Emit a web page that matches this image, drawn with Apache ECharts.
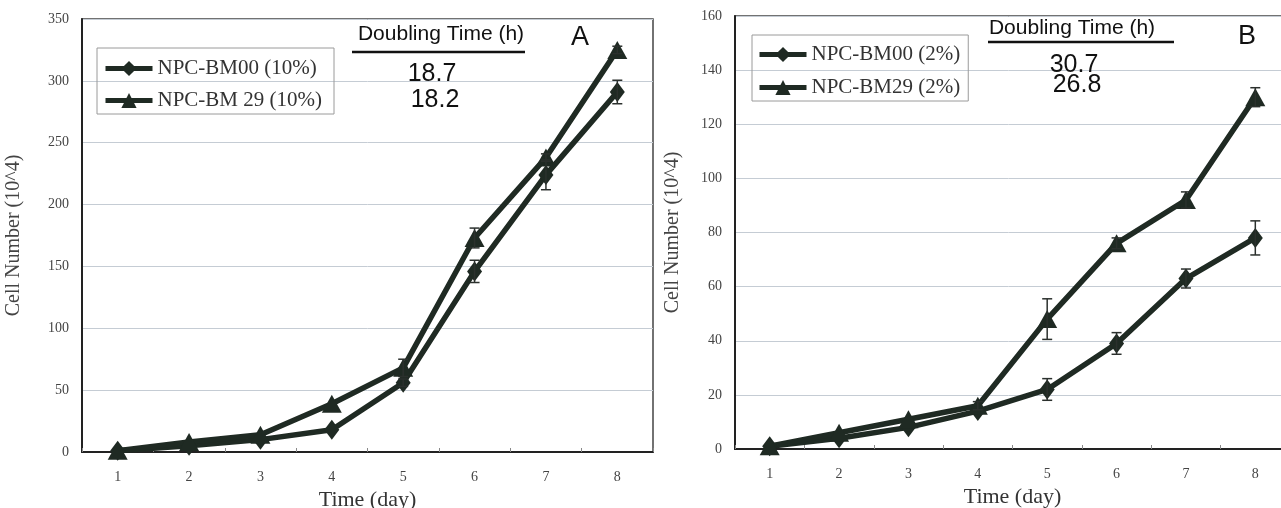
<!DOCTYPE html>
<html><head><meta charset="utf-8">
<script src="https://cdn.jsdelivr.net/npm/echarts@6/dist/echarts.min.js"></script>
<style>html,body{margin:0;padding:0;background:#fff}#c{width:1281px;height:508px}</style>
</head><body><div id="c"></div>
<script>
// ---- data ----
const days = ['1','2','3','4','5','6','7','8'];
const namesA = ['NPC-BM00 (10%)', 'NPC-BM 29 (10%)'];
const namesB = ['NPC-BM00 (2%)', 'NPC-BM29 (2%)'];
const bm00_10 = [1, 5, 10, 18, 56, 146, 224, 291];
const bm00_10_err = [0, 0, 0, 0, 3, 9, 12, 9.5];
const bm29_10 = [1, 8, 14, 39, 68, 173, 238, 325];
const bm29_10_err = [0, 0, 0, 0, 7, 8, 3, 3];
const bm00_2 = [1, 4, 8, 14, 22, 39, 63, 78];
const bm00_2_err = [0, 0, 0, 0, 4, 4, 3.5, 6.3];
const bm29_2 = [1, 6, 11, 16, 48, 76, 92, 130];
const bm29_2_err = [0, 0, 0, 1.5, 7.5, 2, 3, 3.5];
const yAxisA = {min: 0, max: 350, interval: 50};
const yAxisB = {min: 0, max: 160, interval: 20};
const doublingTitle = 'Doubling Time (h)';
const doublingA = ['18.7', '18.2'];
const doublingB = ['30.7', '26.8'];
const panelLabels = ['A', 'B'];
const xTitle = 'Time (day)';
const yTitle = 'Cell Number (10^4)';

// ---- styling ----
const ink = '#1f2a23';
const serif = '"Liberation Serif", "DejaVu Serif", serif';
const sans = '"Liberation Sans", Arial, sans-serif';

function errRender(params, api) {
  const x = api.value(0), v = api.value(1), e = api.value(2);
  if (!e) return null;
  const hi = api.coord([x, v + e]), lo = api.coord([x, v - e]);
  const w = 5;
  const st = {stroke: '#2b302d', lineWidth: 1.5};
  return {type: 'group', children: [
    {type: 'line', shape: {x1: hi[0], y1: hi[1], x2: lo[0], y2: lo[1]}, style: st},
    {type: 'line', shape: {x1: hi[0] - w, y1: hi[1], x2: hi[0] + w, y2: hi[1]}, style: st},
    {type: 'line', shape: {x1: lo[0] - w, y1: lo[1], x2: lo[0] + w, y2: lo[1]}, style: st}
  ]};
}

function lineSeries(name, data, idx, symbol, size) {
  return {
    name, type: 'line', data, xAxisIndex: idx, yAxisIndex: idx,
    symbol, symbolSize: size,
    lineStyle: {color: ink, width: 5.5},
    itemStyle: {color: ink},
    z: 3, animation: false
  };
}
function errSeries(vals, errs, idx) {
  return {
    type: 'custom', xAxisIndex: idx, yAxisIndex: idx,
    renderItem: errRender,
    data: vals.map((v, i) => [i, v, errs[i]]),
    encode: {x: 0, y: 1}, z: 4, animation: false, silent: true
  };
}

function xAxis(idx) {
  return {
    type: 'category', data: days, gridIndex: idx, boundaryGap: true,
    name: xTitle, nameLocation: 'middle', nameGap: 35,
    nameTextStyle: {fontFamily: serif, fontSize: 22, color: '#333'},
    axisLine: {lineStyle: {color: '#222', width: 2}},
    axisTick: {show: true, inside: true, length: 4, lineStyle: {color: '#888'}},
    axisLabel: {fontFamily: serif, fontSize: 14, color: '#444', margin: 18},
    splitLine: {show: false}
  };
}
function yAxis(idx, cfg, gap) {
  return Object.assign({
    type: 'value', gridIndex: idx,
    name: yTitle, nameLocation: 'middle', nameGap: gap, nameRotate: 90,
    nameTextStyle: {fontFamily: serif, fontSize: 20, color: '#444'},
    axisLine: {show: true, lineStyle: {color: '#222', width: 2}},
    axisTick: {show: false},
    axisLabel: {fontFamily: serif, fontSize: 14, color: '#444', margin: 13},
    splitLine: {show: true, lineStyle: {color: '#c5ccd4', width: 1}}
  }, cfg);
}

function legend(names, left, top, padding, gap) {
  return {
    data: names, left, top, orient: 'vertical',
    itemWidth: 47, itemHeight: 19, itemGap: gap,
    padding, borderColor: '#9a9a9a', borderWidth: 1,
    lineStyle: {width: 5},
    textStyle: {fontFamily: serif, fontSize: 21, color: '#333', lineHeight: 20},
    selectedMode: false
  };
}

function txt(x, y, text, size, font) {
  return {type: 'text', x, y, style: {text, font: size + 'px ' + font, fill: '#111', align: 'center', verticalAlign: 'middle'}, z: 10};
}
function hline(x1, x2, y) {
  return {type: 'line', shape: {x1, y1: y, x2, y2: y}, style: {stroke: '#111', lineWidth: 2.5}, z: 10};
}

const option = {
  backgroundColor: '#fff',
  animation: false,
  grid: [
    {left: 82, top: 19, width: 571, height: 433, show: true, borderColor: '#444', borderWidth: 1.5, backgroundColor: 'transparent', containLabel: false, outerBoundsMode: 'none'},
    {left: 735, top: 16, width: 555, height: 433, show: true, borderColor: '#444', borderWidth: 1.5, backgroundColor: 'transparent', containLabel: false, outerBoundsMode: 'none'}
  ],
  xAxis: [xAxis(0), xAxis(1)],
  yAxis: [yAxis(0, yAxisA, 58), yAxis(1, yAxisB, 52)],
  legend: [
    legend(namesA, 97, 48, [10, 12, 3, 6], 11),
    legend(namesB, 752, 35, [9, 8, 3, 5], 12)
  ],
  series: [
    lineSeries(namesA[0], bm00_10, 0, 'diamond', [15, 20]),
    lineSeries(namesA[1], bm29_10, 0, 'triangle', [20, 18]),
    errSeries(bm00_10, bm00_10_err, 0),
    errSeries(bm29_10, bm29_10_err, 0),
    lineSeries(namesB[0], bm00_2, 1, 'diamond', [15, 20]),
    lineSeries(namesB[1], bm29_2, 1, 'triangle', [20, 18]),
    errSeries(bm00_2, bm00_2_err, 1),
    errSeries(bm29_2, bm29_2_err, 1)
  ],
  graphic: [
    txt(441, 34, doublingTitle, 21, sans),
    hline(352, 525, 52),
    txt(432, 74, doublingA[0], 25, sans),
    txt(435, 100, doublingA[1], 25, sans),
    txt(580, 38, panelLabels[0], 27, sans),
    txt(1072, 28, doublingTitle, 21, sans),
    hline(988, 1174, 42),
    txt(1074, 65, doublingB[0], 25, sans),
    txt(1077, 85, doublingB[1], 25, sans),
    txt(1247, 37, panelLabels[1], 27, sans)
  ]
};

const chart = echarts.init(document.getElementById('c'), null, {renderer: 'canvas'});
chart.setOption(option);
</script>
</body></html>
